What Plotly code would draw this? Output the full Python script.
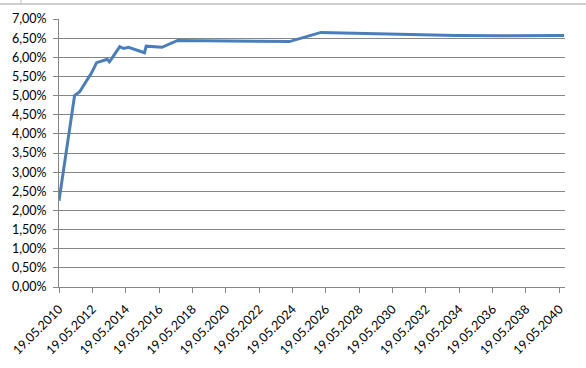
import plotly.graph_objects as go

dates = ["2010-05-19", "2011-04-25", "2011-08-15", "2012-01-20", "2012-05-05",
         "2012-08-20", "2013-04-10", "2013-05-25", "2013-07-08", "2014-01-08",
         "2014-04-05", "2014-07-20", "2015-07-05", "2015-08-10", "2016-07-20",
         "2017-06-28", "2020-06-01", "2024-03-10", "2026-02-01", "2028-01-01",
         "2031-01-01", "2034-03-01", "2037-01-01", "2040-09-01"]
rates = [2.25, 5.00, 5.10, 5.40, 5.60,
         5.86, 5.95, 5.88, 5.95, 6.28,
         6.23, 6.26, 6.12, 6.29, 6.26,
         6.44, 6.42, 6.41, 6.65, 6.63,
         6.60, 6.57, 6.56, 6.57]

tick_years = list(range(2010, 2041, 2))
tick_vals = [f"{y}-05-19" for y in tick_years]
tick_text = [f"19.05.{y}" for y in tick_years]

y_ticks = [i * 0.005 for i in range(15)]

grid = "#868686"
font = dict(family="Lato, Open Sans, sans-serif", size=12.5, color="#000000")

fig = go.Figure()
fig.add_trace(go.Scatter(
    x=dates, y=[r / 100 for r in rates], mode="lines",
    line=dict(color="#4A7EBB", width=3), hoverinfo="skip", showlegend=False))

fig.update_layout(
    width=586, height=368,
    margin=dict(l=59, r=21, t=19, b=81, autoexpand=False),
    paper_bgcolor="white", plot_bgcolor="white",
    separators=", ",
    font=font,
    xaxis=dict(
        type="date", range=["2010-05-19", "2040-09-20"],
        tickmode="array", tickvals=tick_vals, ticktext=tick_text,
        tickangle=-45, ticks="outside", ticklen=5, tickcolor=grid,
        ticklabelstandoff=4, automargin=False,
        showgrid=False, showline=True, linecolor=grid, linewidth=1,
        zeroline=False, tickfont=font),
    yaxis=dict(
        range=[0, 0.07], tickmode="array", tickvals=y_ticks,
        tickformat=".2%", ticks="outside", ticklen=5, tickcolor=grid,
        ticklabelstandoff=4, automargin=False,
        showgrid=True, gridcolor=grid, gridwidth=1,
        showline=True, linecolor=grid, linewidth=1,
        zeroline=False, tickfont=font),
    shapes=[
        dict(type="line", xref="paper", yref="paper",
             x0=-59/506, x1=(586-59)/506, y0=1 + 15/268, y1=1 + 15/268,
             line=dict(color="#A0A0A0", width=1)),
        dict(type="line", xref="paper", yref="paper",
             x0=(21-59)/506, x1=(21-59)/506, y0=1 + 15/268, y1=1 + 19/268,
             line=dict(color="#C0C0C0", width=1)),
    ],
)

fig.write_html("out.html")
